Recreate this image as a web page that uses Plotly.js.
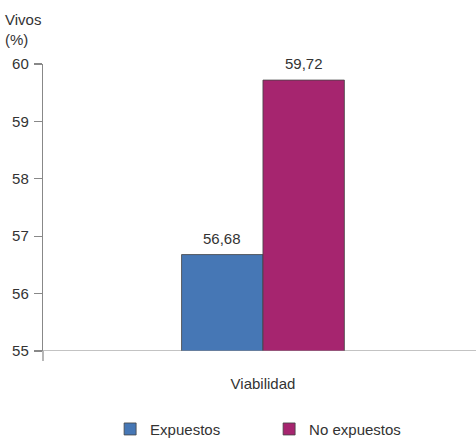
<!DOCTYPE html>
<html><head><meta charset="utf-8">
<script src="https://cdn.plot.ly/plotly-3.0.1.min.js"></script>
<style>html,body{margin:0;padding:0;background:#fff}</style>
</head><body>
<div id="chart" style="width:476px;height:439px"></div>
<script>
const categories = ["Viabilidad"];
const seriesNames = ["Expuestos", "No expuestos"];
const expuestos = [56.68];
const noExpuestos = [59.72];
const colors = ["#4677b5", "#a6256f"];
const yTicks = [55, 56, 57, 58, 59, 60];

const fmt = v => v.toFixed(2).replace(".", ",");
const font = {family: "Liberation Sans, Arial, sans-serif", size: 15, color: "#333"};

const traces = [expuestos, noExpuestos].map((vals, i) => ({
  type: "bar",
  name: seriesNames[i],
  x: categories,
  y: vals,
  marker: {color: colors[i], line: {color: "#444", width: 0.8}},
  hoverinfo: "none"
}));

const annotations = [];
[expuestos, noExpuestos].forEach((vals, i) => {
  vals.forEach((v, j) => {
    annotations.push({
      x: j, xref: "x", y: v, yref: "y",
      text: fmt(v), showarrow: false,
      xshift: (i === 0 ? -1 : 1) * 41, yshift: 6,
      yanchor: "bottom", font: font
    });
  });
});
annotations.push({
  x: 0, xref: "paper", xanchor: "left", xshift: -40,
  y: 1, yref: "paper", yanchor: "top", yshift: 55,
  text: "Vivos<br>(%)", align: "left", showarrow: false, font: font
});

const layout = {
  width: 476, height: 439,
  margin: {l: 43, r: 0, t: 64, b: 88, autoexpand: false},
  paper_bgcolor: "#fff", plot_bgcolor: "#fff",
  barmode: "group", bargap: 0.624, bargroupgap: 0,
  showlegend: true,
  legend: {orientation: "h", x: 0.155, xanchor: "left", y: -0.215, yanchor: "top",
           font: font, entrywidth: 114, traceorder: "normal"},
  xaxis: {type: "category", range: [-0.508, 0.492], showline: false, ticks: "",
          showgrid: false, zeroline: false, tickfont: font, ticklabelstandoff: 22,
          automargin: false},
  yaxis: {range: [55, 60], tickvals: yTicks, ticktext: yTicks.map(String),
          showline: true, linecolor: "#888", linewidth: 1.2, ticks: "outside",
          ticklen: 8, tickcolor: "#888", tickwidth: 1.2, showgrid: false,
          zeroline: false, tickfont: font, ticklabelstandoff: 2, automargin: false},
  shapes: [
    {type: "line", xref: "paper", yref: "y", x0: -0.02, x1: 1, y0: 55, y1: 55,
     line: {color: "#888", width: 1.2}, layer: "above"},
    {type: "line", xref: "paper", yref: "paper", x0: 0, x1: 0, y0: 0, y1: -0.035,
     line: {color: "#888", width: 1.2}}
  ],
  annotations: annotations,
  font: font
};

Plotly.newPlot("chart", traces, layout, {displayModeBar: false, staticPlot: true});
</script>
</body></html>
